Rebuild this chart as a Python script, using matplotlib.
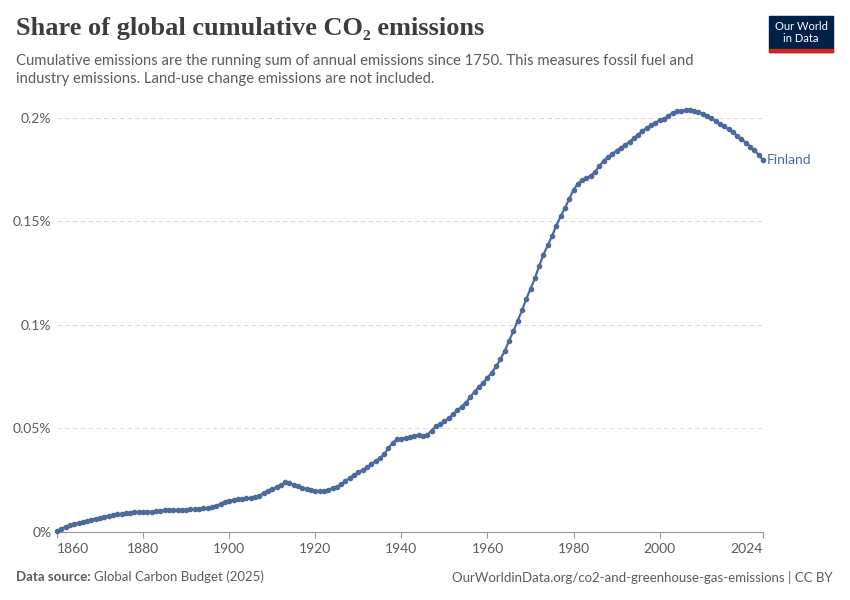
"""Share of global cumulative CO2 emissions - Finland (OWID style)."""

import matplotlib
matplotlib.use("Agg")
import matplotlib.pyplot as plt
from matplotlib.patches import Rectangle
import numpy as np

# annual values, 1860 to 2024, percent of global cumulative CO2
years = np.arange(1860, 2025)
finland_share = [
    0.0006, 0.0016, 0.0025, 0.0033, 0.0039, 0.0045, 0.0050, 0.0055, 0.0060, 0.0065,  # 1860s
    0.0069, 0.0074, 0.0078, 0.0082, 0.0085, 0.0088, 0.0091, 0.0093, 0.0095, 0.0096,  # 1870s
    0.0097, 0.0097, 0.0098, 0.0100, 0.0102, 0.0105, 0.0105, 0.0105, 0.0105, 0.0106,  # 1880s
    0.0107, 0.0109, 0.0111, 0.0113, 0.0114, 0.0116, 0.0119, 0.0126, 0.0136, 0.0145,  # 1890s
    0.0152, 0.0155, 0.0158, 0.0160, 0.0163, 0.0165, 0.0168, 0.0175, 0.0188, 0.0200,  # 1900s
    0.0208, 0.0217, 0.0228, 0.0240, 0.0237, 0.0228, 0.0222, 0.0214, 0.0207, 0.0202,  # 1910s
    0.0198, 0.0196, 0.0196, 0.0203, 0.0213, 0.0218, 0.0230, 0.0245, 0.0262, 0.0276,  # 1920s
    0.0289, 0.0300, 0.0313, 0.0328, 0.0343, 0.0356, 0.0375, 0.0405, 0.0432, 0.0447,  # 1930s
    0.0451, 0.0455, 0.0460, 0.0466, 0.0468, 0.0463, 0.0468, 0.0490, 0.0510, 0.0520,  # 1940s
    0.0534, 0.0550, 0.0568, 0.0588, 0.0606, 0.0625, 0.0652, 0.0678, 0.0700, 0.0722,  # 1950s
    0.0745, 0.0770, 0.0800, 0.0834, 0.0874, 0.0923, 0.0970, 0.1020, 0.1070, 0.1125,  # 1960s
    0.1175, 0.1225, 0.1285, 0.1340, 0.1385, 0.1430, 0.1480, 0.1525, 0.1565, 0.1610,  # 1970s
    0.1652, 0.1683, 0.1700, 0.1710, 0.1722, 0.1740, 0.1768, 0.1793, 0.1812, 0.1827,  # 1980s
    0.1842, 0.1857, 0.1870, 0.1885, 0.1902, 0.1920, 0.1938, 0.1952, 0.1965, 0.1978,  # 1990s
    0.1988, 0.1997, 0.2008, 0.2025, 0.2033, 0.2032, 0.2040, 0.2040, 0.2034, 0.2030,  # 2000s
    0.2020, 0.2008, 0.1998, 0.1985, 0.1972, 0.1960, 0.1945, 0.1930, 0.1915, 0.1898,  # 2010s
    0.1880, 0.1862, 0.1845, 0.1822, 0.1797,                                          # 2020s
]
assert len(finland_share) == len(years)

y_ticks = [0, 0.05, 0.1, 0.15, 0.2]
y_tick_labels = ["0%", "0.05%", "0.1%", "0.15%", "0.2%"]
x_ticks = [1860, 1880, 1900, 1920, 1940, 1960, 1980, 2000, 2024]

title = "Share of global cumulative CO\u2082 emissions"
subtitle = ("Cumulative emissions are the running sum of annual emissions since 1750. "
            "This measures fossil fuel and\nindustry emissions. Land-use change "
            "emissions are not included.")
source_url = "OurWorldinData.org/co2-and-greenhouse-gas-emissions | CC BY"

LINE_COLOR = "#4c6a9c"
TEXT_GREY = "#5b5b5b"
plt.rcParams["font.family"] = ["Lato", "DejaVu Sans"]

fig = plt.figure(figsize=(8.5, 6), dpi=100)
ax = fig.add_axes([57 / 850, 1 - 532 / 600, (763 - 57) / 850, (532 - 107.6) / 600])

ax.plot(years, finland_share, color=LINE_COLOR, linewidth=1.6,
        marker="o", markersize=3.0, clip_on=False, zorder=3)
ax.set_xlim(years[0], years[-1])
ax.set_ylim(0, 0.205)

ax.set_yticks(y_ticks)
ax.set_yticklabels(y_tick_labels)
ax.set_xticks(x_ticks)
ax.set_xticklabels([str(x) for x in x_ticks])
ax.get_xticklabels()[0].set_horizontalalignment("left")
ax.get_xticklabels()[-1].set_horizontalalignment("right")

for value in y_ticks[1:]:
    ax.axhline(value, color="#dddddd", linewidth=0.8, linestyle=(0, (4, 3)),
               zorder=1)
for side in ("top", "right", "left"):
    ax.spines[side].set_visible(False)
ax.spines["bottom"].set_color("#999999")
ax.spines["bottom"].set_linewidth(0.8)
ax.tick_params(axis="y", length=0, pad=4, labelsize=10, labelcolor=TEXT_GREY)
ax.tick_params(axis="x", length=4, width=0.8, color="#999999", pad=4,
               labelsize=10, labelcolor=TEXT_GREY)

ax.annotate("Finland", xy=(years[-1], finland_share[-1]), xytext=(3, 0),
            textcoords="offset points", va="center", ha="left",
            color=LINE_COLOR, fontsize=10)

fig.text(16 / 850, 1 - 29 / 600, title, family=["Liberation Serif", "DejaVu Serif"],
         fontsize=19, weight="bold", color="#3d3d3d", va="center", ha="left")
fig.text(16 / 850, 1 - 70 / 600, subtitle, fontsize=10.7, color=TEXT_GREY,
         va="center", ha="left", linespacing=1.35)

# logo
fig.patches.append(Rectangle((769 / 850, 1 - 52 / 600), 64 / 850, 36 / 600,
                             transform=fig.transFigure, color="#002147"))
fig.patches.append(Rectangle((769 / 850, 1 - 52 / 600), 64 / 850, 3 / 600,
                             transform=fig.transFigure, color="#ce261e"))
fig.text(801 / 850, 1 - 32.5 / 600, "Our World\nin Data", color="white",
         fontsize=8, ha="center", va="center", linespacing=1.05)

fig.text(16 / 850, 1 - 577 / 600, "Data source:", fontsize=9.5, color=TEXT_GREY,
         weight="bold", va="center", ha="left")
fig.text(94 / 850, 1 - 577 / 600, "Global Carbon Budget (2025)", fontsize=9.5,
         color=TEXT_GREY, va="center", ha="left")
fig.text(833 / 850, 1 - 577 / 600, source_url, fontsize=9.5, color=TEXT_GREY,
         va="center", ha="right")

fig.savefig("out.png", dpi=100)
